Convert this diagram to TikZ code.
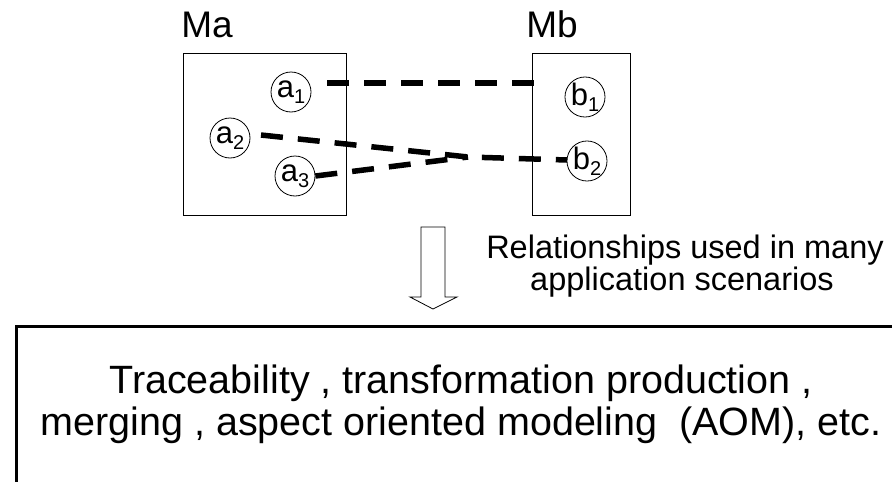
\documentclass[tikz,border=0pt]{standalone}
\usepackage{fontspec}
\setmainfont{Liberation Sans}
\newcommand{\subidx}[1]{{\fontsize{20}{20}\selectfont\raisebox{-6pt}{#1}}}
\begin{document}
\begin{tikzpicture}[x=1pt,y=-1pt,
  model/.style={draw,line width=1.1pt},
  elem/.style={circle,draw,line width=0.8pt,minimum size=40,inner sep=0pt,
    font=\fontsize{31}{32}\selectfont},
  link/.style={line width=5.5pt,dash pattern=on 22pt off 15pt},
  title/.style={font=\fontsize{37}{40}\selectfont,anchor=base},
  note/.style={font=\fontsize{32.5}{36}\selectfont,anchor=base},
  usage/.style={font=\fontsize{39.5}{44}\selectfont,anchor=base}]
  \useasboundingbox (0,0) rectangle (892,482);
  \clip (0,0) rectangle (892,482);

  % the two models
  \node[model,minimum width=163,minimum height=162,anchor=north west] (Ma) at (183,53) {};
  \node[model,minimum width=98,minimum height=162,anchor=north west] (Mb) at (532,53) {};
  \node[title] (MaL) at (207,37) {Ma};
  \node[title] (MbL) at (552,37) {Mb};

  % model elements
  \node[elem] (a1) at (291,92) {a\subidx{1}};
  \node[elem] (a2) at (230,138) {a\subidx{2}};
  \node[elem] (a3) at (295,176) {a\subidx{3}};
  \node[elem] (b1) at (585,97) {b\subidx{1}};
  \node[elem] (b2) at (587,161) {b\subidx{2}};

  % correspondence links
  \coordinate (l1s) at (327,83);
  \coordinate (l1e) at (536,83);
  \coordinate (l2s) at (261,135);
  \coordinate (j) at (468,157);
  \coordinate (b2in) at (567,160);
  \draw[link] (l1s) -- (l1e);
  \draw[link] (l2s) -- (j) -- (b2in);
  \draw[link] (a3.east) -- (j);

  % hollow arrow
  \draw[line width=0.8pt] (421,227) coordinate (arrTop) -- (445,227) -- (445,297) -- (457,297)
    -- (433,309) -- (410,297) -- (421,297) -- cycle;

  \node[note] (n1) at (685,258) {Relationships used in many};
  \node[note] (n2) at (682,290) {application scenarios};

  % application box
  \node[draw,line width=3pt,minimum width=900,minimum height=200,anchor=north west] (apps) at (15,325) {};
  \node[usage] (u1) at (461,393) {Traceability , transformation production ,};
  \node[usage] (u2) at (461,435) {merging , aspect oriented modeling~ (AOM), etc.};
\end{tikzpicture}
\end{document}
